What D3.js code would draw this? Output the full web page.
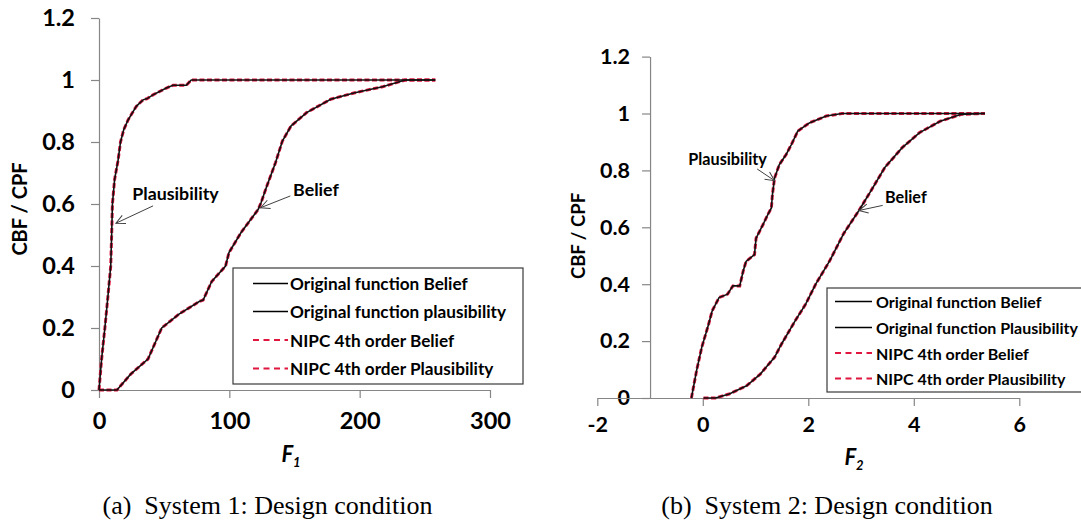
<!DOCTYPE html>
<html><head><meta charset="utf-8">
<script src="https://cdn.jsdelivr.net/npm/d3@7"></script>
<style>
html,body{margin:0;padding:0;background:#fff;}
svg{display:block;}
</style></head>
<body>
<svg id="chart" width="1081" height="523"></svg>
<script>
// ---------- data ----------
const yTickValues = [0, 0.2, 0.4, 0.6, 0.8, 1, 1.2];
const yTickLabels = ["0", "0.2", "0.4", "0.6", "0.8", "1", "1.2"];
const f1TickValues = [0, 100, 200, 300];
const f1TickLabels = ["0", "100", "200", "300"];
const f2TickValues = [-2, 0, 2, 4, 6];
const f2TickLabels = ["-2", "0", "2", "4", "6"];

const legend1Labels = ["Original function Belief", "Original function plausibility", "NIPC 4th order Belief", "NIPC 4th order Plausibility"];
const legend2Labels = ["Original function Belief", "Original function Plausibility", "NIPC 4th order Belief", "NIPC 4th order Plausibility"];
const captions = ["(a)\u2002System 1: Design condition", "(b)\u2002System 2: Design condition"];

// System 1 (F1)
const f1OrigBelief = [[0,0],[13.8,0],[24.3,0.051],[37.6,0.1],[48.1,0.2],[61.4,0.245],[77.2,0.286],[79.9,0.29],[86.5,0.35],[97.1,0.4],[99.7,0.443],[109,0.508],[122.2,0.583],[124.3,0.604],[128.8,0.658],[135.4,0.733],[140.7,0.803],[147.4,0.852],[159.3,0.895],[177.8,0.938],[196.3,0.959],[217.5,0.978],[235,1],[258,1]];
const f1OrigPlaus = [[0,0],[2,0.1],[4.5,0.2],[6.8,0.3],[9,0.4],[9.7,0.5],[10.3,0.6],[12,0.68],[14.6,0.74],[16.5,0.8],[19,0.84],[22.3,0.871],[25,0.89],[28.6,0.915],[33.8,0.936],[37,0.94],[41.4,0.952],[46.5,0.963],[51.7,0.974],[56.8,0.983],[67,0.983],[70.8,1],[258,1]];
const f1NipcBelief = [[0,0],[13.8,0],[24.3,0.051],[37.6,0.1],[48.1,0.2],[61.4,0.245],[77.2,0.286],[79.9,0.29],[86.5,0.35],[97.1,0.4],[99.7,0.443],[109,0.508],[122.2,0.583],[124.3,0.604],[128.8,0.658],[135.4,0.733],[140.7,0.803],[147.4,0.852],[159.3,0.895],[177.8,0.938],[196.3,0.959],[217.5,0.978],[235,1],[258,1]];
const f1NipcPlaus = [[0,0],[2,0.1],[4.5,0.2],[6.8,0.3],[9,0.4],[9.7,0.5],[10.3,0.6],[12,0.68],[14.6,0.74],[16.5,0.8],[19,0.84],[22.3,0.871],[25,0.89],[28.6,0.915],[33.8,0.936],[37,0.94],[41.4,0.952],[46.5,0.963],[51.7,0.974],[56.8,0.983],[67,0.983],[70.8,1],[258,1]];

// System 2 (F2)
const f2OrigBelief = [[0.013,0],[0.24,0],[0.5,0.014],[0.83,0.043],[1.09,0.084],[1.36,0.143],[1.49,0.189],[1.75,0.271],[1.95,0.33],[2.14,0.4],[2.405,0.482],[2.67,0.578],[2.96,0.659],[3.19,0.729],[3.45,0.81],[3.78,0.88],[4.11,0.933],[4.5,0.973],[4.9,0.997],[5.29,1],[5.35,1]];
const f2OrigPlaus = [[-0.216,0],[-0.118,0.096],[-0.02,0.178],[0.111,0.26],[0.177,0.306],[0.308,0.353],[0.47,0.365],[0.57,0.394],[0.7,0.394],[0.767,0.447],[0.82,0.48],[0.98,0.504],[1.01,0.562],[1.14,0.609],[1.23,0.644],[1.3,0.668],[1.32,0.715],[1.36,0.773],[1.45,0.82],[1.58,0.856],[1.68,0.891],[1.8,0.938],[2.02,0.967],[2.34,0.991],[2.64,1],[5.35,1]];
const f2NipcBelief = [[0.013,0],[0.24,0],[0.5,0.014],[0.83,0.043],[1.09,0.084],[1.36,0.143],[1.49,0.189],[1.75,0.271],[1.95,0.33],[2.14,0.4],[2.405,0.482],[2.67,0.578],[2.96,0.659],[3.19,0.729],[3.45,0.81],[3.78,0.88],[4.11,0.933],[4.5,0.973],[4.9,0.997],[5.29,1],[5.35,1]];
const f2NipcPlaus = [[-0.216,0],[-0.118,0.096],[-0.02,0.178],[0.111,0.26],[0.177,0.306],[0.308,0.353],[0.47,0.365],[0.57,0.394],[0.7,0.394],[0.767,0.447],[0.82,0.48],[0.98,0.504],[1.01,0.562],[1.14,0.609],[1.23,0.644],[1.3,0.668],[1.32,0.715],[1.36,0.773],[1.45,0.82],[1.58,0.856],[1.68,0.891],[1.8,0.938],[2.02,0.967],[2.34,0.991],[2.64,1],[5.35,1]];

// annotations: [label, textX, textY, arrowFromX, arrowFromY, arrowToX, arrowToY] in data units
const annot1 = [["Plausibility", 58.7, 0.637, 41.5, 0.594, 13, 0.538], ["Belief", 166.5, 0.647, 146.8, 0.626, 124, 0.588]];
const annot2 = [["Plausibility", 0.47, 0.843, 1.03, 0.805, 1.36, 0.764], ["Belief", 3.85, 0.709, 3.41, 0.677, 2.96, 0.659]];

// ---------- drawing ----------
const svg = d3.select("#chart");
const FONT = "Lato, 'Open Sans', sans-serif";
const AXIS_COLOR = "#868686";
const RED = "#e0163f";

svg.append("defs").append("marker")
  .attr("id", "arrow").attr("viewBox", "-10 -6 12 12")
  .attr("refX", 0).attr("refY", 0)
  .attr("markerUnits", "userSpaceOnUse")
  .attr("markerWidth", 12).attr("markerHeight", 12)
  .attr("orient", "auto")
  .append("path").attr("d", "M-9,-4.5L0,0L-9,4.5")
  .attr("fill", "none").attr("stroke", "#404040").attr("stroke-width", 1);

function drawPanel(cfg) {
  const g = svg.append("g");
  const x = d3.scaleLinear().domain(cfg.xDomain).range(cfg.xRange);
  const y = d3.scaleLinear().domain([0, 1.2]).range(cfg.yRange);

  const yAx = g.append("g")
    .attr("transform", `translate(${x(cfg.yAxisAt)},0)`)
    .call(d3.axisLeft(y).tickValues(yTickValues)
      .tickFormat((d, i) => yTickLabels[i])
      .tickSize(8).tickSizeOuter(0).tickPadding(cfg.yPad));
  const xAx = g.append("g")
    .attr("transform", `translate(0,${y(0)})`)
    .call(d3.axisBottom(x).tickValues(cfg.xTicks)
      .tickFormat((d, i) => cfg.xLabels[i])
      .tickSize(8).tickSizeOuter(0).tickPadding(cfg.xPad));
  [yAx, xAx].forEach(a => {
    a.select(".domain").attr("stroke", AXIS_COLOR).attr("stroke-width", 1.2);
    a.selectAll(".tick line").attr("stroke", AXIS_COLOR).attr("stroke-width", 1.2);
    a.selectAll("text").attr("font-family", FONT).attr("font-weight", "bold")
      .attr("font-size", cfg.tickFont).attr("fill", "#000");
  });

  g.append("text")
    .attr("transform", `translate(${cfg.yTitleX},${cfg.yTitleY}) rotate(-90)`)
    .attr("text-anchor", "middle").attr("dominant-baseline", "central")
    .attr("font-family", FONT).attr("font-weight", "bold").attr("font-size", cfg.yTitleFont)
    .text("CBF / CPF");

  const xt = g.append("text")
    .attr("x", cfg.xTitleX).attr("y", cfg.xTitleY)
    .attr("text-anchor", "middle")
    .attr("font-family", FONT).attr("font-weight", "bold").attr("font-style", "italic")
    .attr("font-size", 22);
  xt.append("tspan").text("F");
  xt.append("tspan").attr("font-size", 13).attr("dy", 5).text(cfg.sub);

  const line = d3.line().x(d => x(d[0])).y(d => y(d[1]));
  cfg.nipc.forEach(s => {
    g.append("path").attr("d", line(s)).attr("fill", "none")
      .attr("stroke", RED).attr("stroke-width", 3).attr("stroke-dasharray", "5,2.5");
  });
  cfg.orig.forEach(s => {
    g.append("path").attr("d", line(s)).attr("fill", "none")
      .attr("stroke", "#111").attr("stroke-width", 1.6);
  });

  cfg.annot.forEach(a => {
    g.append("text").attr("x", x(a[1])).attr("y", y(a[2]))
      .attr("text-anchor", "middle").attr("dominant-baseline", "central")
      .attr("font-family", FONT).attr("font-weight", "bold").attr("font-size", cfg.annotFont)
      .text(a[0]);
    g.append("line")
      .attr("x1", x(a[3])).attr("y1", y(a[4]))
      .attr("x2", x(a[5])).attr("y2", y(a[6]))
      .attr("stroke", "#404040").attr("stroke-width", 1)
      .attr("marker-end", "url(#arrow)");
  });

  const lg = g.append("g");
  lg.append("rect")
    .attr("x", cfg.leg.x).attr("y", cfg.leg.y)
    .attr("width", cfg.leg.w).attr("height", cfg.leg.h)
    .attr("fill", "#fff").attr("stroke", "#3a3a3a").attr("stroke-width", 1.2);
  cfg.legLabels.forEach((lab, i) => {
    const yy = cfg.leg.rows[i];
    const dashed = i >= 2;
    lg.append("line")
      .attr("x1", cfg.leg.lx1).attr("x2", cfg.leg.lx2)
      .attr("y1", yy).attr("y2", yy)
      .attr("stroke", dashed ? RED : "#000")
      .attr("stroke-width", dashed ? 2 : 1.6)
      .attr("stroke-dasharray", dashed ? "6,4.5" : null);
    lg.append("text").attr("x", cfg.leg.tx).attr("y", yy)
      .attr("dominant-baseline", "central")
      .attr("font-family", FONT).attr("font-weight", "bold").attr("font-size", cfg.leg.font)
      .text(lab);
  });

  svg.append("text").attr("x", cfg.capX).attr("y", cfg.capY)
    .attr("text-anchor", "middle")
    .attr("font-family", "'Liberation Serif', 'Times New Roman', serif")
    .attr("font-size", 26).text(cfg.caption);
}

drawPanel({
  xDomain: [0, 300], xRange: [99, 490], yRange: [390, 18], yAxisAt: 0,
  xTicks: f1TickValues, xLabels: f1TickLabels, yPad: 16, xPad: 14, tickFont: 23.5,
  yTitleX: 19, yTitleY: 209, yTitleFont: 20,
  xTitleX: 291, xTitleY: 462, sub: "1",
  orig: [f1OrigBelief, f1OrigPlaus], nipc: [f1NipcBelief, f1NipcPlaus],
  annot: annot1, annotFont: 17.8,
  leg: {x: 233, y: 268, w: 290, h: 116, rows: [283.5, 311.5, 340, 368.5], lx1: 253, lx2: 288, tx: 290, font: 17.2},
  legLabels: legend1Labels,
  capX: 267.5, capY: 514, caption: captions[0]
});

drawPanel({
  xDomain: [-2, 6], xRange: [597.3, 1019.3], yRange: [398, 56.6], yAxisAt: -1,
  xTicks: f2TickValues, xLabels: f2TickLabels, yPad: 12, xPad: 11, tickFont: 21.5,
  yTitleX: 578, yTitleY: 236, yTitleFont: 18.5,
  xTitleX: 854, xTitleY: 465, sub: "2",
  orig: [f2OrigBelief, f2OrigPlaus], nipc: [f2NipcBelief, f2NipcPlaus],
  annot: annot2, annotFont: 16.2,
  leg: {x: 827, y: 288, w: 270, h: 104, rows: [301.5, 327.5, 353, 378.5], lx1: 835, lx2: 872, tx: 876, font: 16},
  legLabels: legend2Labels,
  capX: 827, capY: 514, caption: captions[1]
});
</script>
</body></html>
